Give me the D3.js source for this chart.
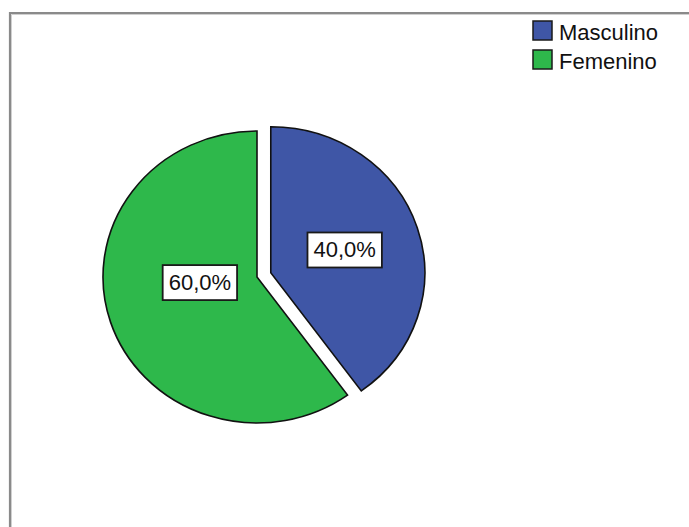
<!DOCTYPE html>
<html><head><meta charset="utf-8">
<script src="https://cdn.jsdelivr.net/npm/d3@7"></script>
<style>body{margin:0;background:#fff}svg{display:block}</style>
</head><body>
<svg id="c" width="689" height="527"></svg>
<script>
const categories = ["Masculino", "Femenino"];
const values = [40.0, 60.0];
const colors = ["#3f56a6", "#2eb84b"];
const labels = ["40,0%", "60,0%"];

const svg = d3.select("#c");
const W = 689, H = 527;

// frame
svg.append("path").attr("d", `M10,${H} V13 H${W}`).attr("fill","none").attr("stroke","#8a8a8a").attr("stroke-width",2.2);
svg.append("path").attr("d", `M11.5,${H} V14.5 H${W}`).attr("fill","none").attr("stroke","#d0d0d0").attr("stroke-width",1);

const cx = 257, cy = 277, rx = 154, ry = 146;
const explode = 14.5;
const pie = d3.pie().sort(null).value(d => d)(values);
const arc = d3.arc().innerRadius(0).outerRadius(rx);
const g = svg.append("g").attr("transform", `translate(${cx},${cy}) scale(1,${ry/rx})`);

pie.forEach((p, i) => {
  const mid = (p.startAngle + p.endAngle) / 2;
  const off = i === 0 ? explode : 0;
  const dx = Math.sin(mid) * off, dy = -Math.cos(mid) * off;
  g.append("path").attr("d", arc(p))
    .attr("transform", `translate(${dx},${dy})`)
    .attr("fill", colors[i]).attr("stroke", "#111").attr("stroke-width", 1.6)
    .attr("vector-effect", "non-scaling-stroke");
});

// labels at (roughly) the geometric centroid of each sector
pie.forEach((p, i) => {
  const a = p.endAngle - p.startAngle;
  const mid = (p.startAngle + p.endAngle) / 2;
  const off = i === 0 ? explode : 0;
  const rc = Math.max(4 * rx * Math.sin(a/2) / (3 * a), rx*0.39) + off;
  const x = cx + Math.sin(mid) * rc;
  const y = cy - Math.cos(mid) * rc * (ry/rx) - (i===1 ? 12 : 0);
  const t = svg.append("text").attr("x", x).attr("y", y).attr("text-anchor","middle")
    .attr("dominant-baseline","central")
    .attr("font-family","Liberation Sans, Arial, sans-serif").attr("font-size", 22).attr("fill","#111")
    .text(labels[i]);
  const bb = t.node().getBBox();
  svg.insert("rect", "text").attr("x", x - bb.width/2 - 6).attr("y", y - 17.5)
    .attr("width", bb.width + 12).attr("height", 35)
    .attr("fill","#fff").attr("stroke","#1a1a1a").attr("stroke-width",1.8);
});

// legend
const lg = svg.append("g");
categories.forEach((c, i) => {
  const y = 21 + i*29;
  lg.append("rect").attr("x", 533).attr("y", y).attr("width", 19).attr("height", 19)
    .attr("fill", colors[i]).attr("stroke","#1a1a1a").attr("stroke-width",1.5);
  lg.append("text").attr("x", 559).attr("y", y + 11).attr("dominant-baseline","central")
    .attr("font-family","Liberation Sans, Arial, sans-serif").attr("font-size", 22).attr("fill","#111")
    .text(c);
});
</script>
</body></html>
